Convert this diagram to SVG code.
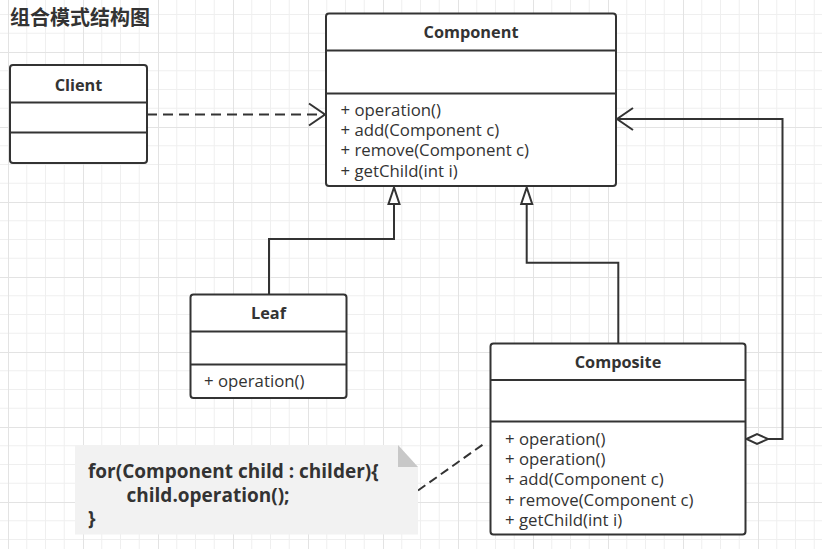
<svg xmlns="http://www.w3.org/2000/svg" width="822" height="549" viewBox="0 0 822 549">
<defs>
<pattern id="grid" x="8" y="52" width="75" height="75" patternUnits="userSpaceOnUse">
<path d="M18.75,0V75M37.5,0V75M56.25,0V75M0,18.75H75M0,37.5H75M0,56.25H75" stroke="#efefef" stroke-width="1" fill="none"/>
<path d="M0.5,0V75M0,0.5H75" stroke="#e3e3e3" stroke-width="1" fill="none"/>
</pattern>
<style>
.box{fill:#fff;stroke:#333;stroke-width:2}
.sep{stroke:#333;stroke-width:2}
.title{font-family:"Open Sans","Noto Sans",sans-serif;font-weight:bold;font-size:16.3px;fill:#333;text-anchor:middle}
.m{font-family:"Open Sans","Noto Sans",sans-serif;font-size:16.8px;fill:#333}
.line{fill:none;stroke:#333;stroke-width:2}
.dash{fill:none;stroke:#333;stroke-width:2;stroke-dasharray:10 6}
.head{fill:#fff;stroke:#333;stroke-width:2}
.note{font-family:"Open Sans","Noto Sans",sans-serif;font-weight:bold;font-size:19px;fill:#333}
</style>
</defs>
<rect width="822" height="549" fill="#fff"/>
<rect width="822" height="549" fill="url(#grid)"/>
<text x="10" y="24.5" font-family="'Noto Sans CJK SC',sans-serif" font-weight="bold" font-size="20" fill="#333">组合模式结构图</text>

<g id="connectors">
<path class="dash" d="M147,114.5H324"/>
<polyline class="line" points="309,103.5 325,114.5 309,125.5"/>
<path class="line" d="M269,294.5V239H394V204"/>
<polygon class="head" points="394,187.5 388.5,204 399.5,204"/>
<path class="line" d="M618.3,343.5V262.7H526.7V204"/>
<polygon class="head" points="526.7,187.5 521.2,204 532.2,204"/>
<path class="line" d="M768,439H782.5V119H618"/>
<polyline class="line" points="633,108 617,119 633,130"/>
<polygon class="head" points="746.5,439 757,434 768,439 757,444"/>
<path class="dash" style="stroke-dasharray:9 5" d="M418,490.5L486,442.3"/>
</g>

<g id="client">
<rect class="box" x="10" y="65" width="137" height="98" rx="3"/>
<line class="sep" x1="10" y1="102.5" x2="147" y2="102.5"/>
<line class="sep" x1="10" y1="132.5" x2="147" y2="132.5"/>
<text class="title" x="78.5" y="91">Client</text>
</g>

<g id="component">
<rect class="box" x="326" y="13.5" width="290" height="172.5" rx="3"/>
<line class="sep" x1="326" y1="50.5" x2="616" y2="50.5"/>
<line class="sep" x1="326" y1="93.5" x2="616" y2="93.5"/>
<text class="title" x="471" y="37.5">Component</text>
<text class="m" x="340.5" y="115.5">+ operation()</text>
<text class="m" x="340.5" y="135.5">+ add(Component c)</text>
<text class="m" x="340.5" y="156">+ remove(Component c)</text>
<text class="m" x="340.5" y="176.5">+ getChild(int i)</text>
</g>

<g id="leaf">
<rect class="box" x="190.5" y="294.5" width="156" height="103.5" rx="3"/>
<line class="sep" x1="190.5" y1="331.5" x2="346.5" y2="331.5"/>
<line class="sep" x1="190.5" y1="364.5" x2="346.5" y2="364.5"/>
<text class="title" x="268.5" y="319">Leaf</text>
<text class="m" x="204" y="387">+ operation()</text>
</g>

<g id="composite">
<rect class="box" x="490.5" y="343.5" width="255" height="191" rx="3"/>
<line class="sep" x1="490.5" y1="380" x2="745.5" y2="380"/>
<line class="sep" x1="490.5" y1="421.5" x2="745.5" y2="421.5"/>
<text class="title" x="618" y="367.5">Composite</text>
<text class="m" x="505" y="445">+ operation()</text>
<text class="m" x="505" y="465">+ operation()</text>
<text class="m" x="505" y="485">+ add(Component c)</text>
<text class="m" x="505" y="505.5">+ remove(Component c)</text>
<text class="m" x="505" y="525.5">+ getChild(int i)</text>
</g>

<g id="note">
<polygon points="75,445 398,445 418,467 418,534.5 75,534.5" fill="#f2f2f2"/>
<polygon points="398,445 398,467 418,467" fill="#c8c8c8"/>
<text class="note" x="88" y="478">for(Component child : childer){</text>
<text class="note" x="126.5" y="501.5">child.operation();</text>
<text class="note" x="88" y="524.5">}</text>
</g>
</svg>
